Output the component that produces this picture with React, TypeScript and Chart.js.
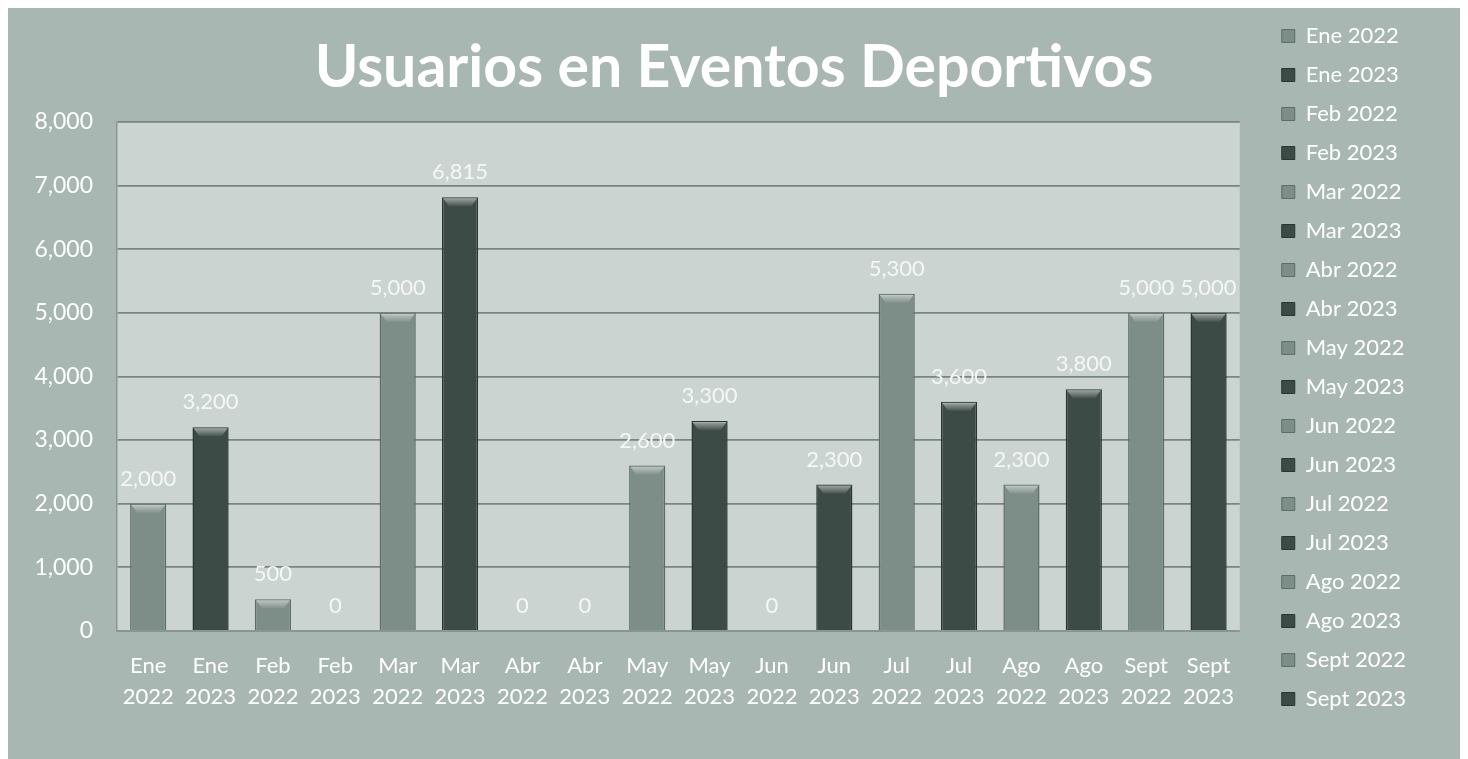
import { useEffect, useRef } from "react";
import { Chart, registerables } from "chart.js";

Chart.register(...registerables);

const months = ["Ene", "Ene", "Feb", "Feb", "Mar", "Mar", "Abr", "Abr", "May", "May", "Jun", "Jun", "Jul", "Jul", "Ago", "Ago", "Sept", "Sept"];
const years = ["2022", "2023", "2022", "2023", "2022", "2023", "2022", "2023", "2022", "2023", "2022", "2023", "2022", "2023", "2022", "2023", "2022", "2023"];
const values = [2000, 3200, 500, 0, 5000, 6815, 0, 0, 2600, 3300, 0, 2300, 5300, 3600, 2300, 3800, 5000, 5000];
const yMin = 0;
const yMax = 8000;
const yStep = 1000;
const titleText = "Usuarios en Eventos Deportivos";

const FONT = "Lato, 'Open Sans', sans-serif";
const BG = "#a9b7b2";
const PLOT_BG = "#cbd4d0";
const FILL_2022 = "#7d8e88";
const FILL_2023 = "#3d4b47";
const EDGE_2022 = "#5c6c67";
const EDGE_2023 = "#2a3532";

const fills = years.map((y) => (y === "2022" ? FILL_2022 : FILL_2023));
const edges = years.map((y) => (y === "2022" ? EDGE_2022 : EDGE_2023));

const fmt = (v: number) => v.toLocaleString("en-US");

const plotBg = {
  id: "plotBg",
  afterLayout(chart: any) {
    const t = chart.titleBlock;
    if (t) {
      t.left = 0;
      t.right = chart.width;
      t.width = chart.width;
    }
  },
  beforeDraw(chart: any) {
    const { ctx, chartArea: a } = chart;
    ctx.save();
    ctx.fillStyle = PLOT_BG;
    ctx.fillRect(a.left, a.top, a.right - a.left, a.bottom - a.top);
    ctx.restore();
  },
};

const barLabels = {
  id: "barLabels",
  afterDatasetsDraw(chart: any) {
    const ctx = chart.ctx;
    const meta = chart.getDatasetMeta(0);
    ctx.save();
    meta.data.forEach((bar: any, i: number) => {
      const { x, y, width, base } = bar.getProps(["x", "y", "width", "base"], true);
      if (values[i] > 0) {
        const h = Math.min(9, base - y);
        const g = ctx.createLinearGradient(0, y, 0, y + h);
        g.addColorStop(0, "rgba(255,255,255,0.55)");
        g.addColorStop(1, "rgba(255,255,255,0.05)");
        ctx.fillStyle = g;
        ctx.beginPath();
        ctx.moveTo(x - width / 2 + 1, y + 1);
        ctx.lineTo(x + width / 2 - 1, y + 1);
        ctx.lineTo(x + width / 2 - 7, y + h);
        ctx.lineTo(x - width / 2 + 7, y + h);
        ctx.closePath();
        ctx.fill();
      }
      ctx.font = `22px ${FONT}`;
      ctx.fillStyle = "#f5f7f6";
      ctx.textAlign = "center";
      ctx.textBaseline = "middle";
      ctx.fillText(fmt(values[i]), x, y - 25);
    });
    ctx.restore();
  },
};

export default function App() {
  const ref = useRef<HTMLCanvasElement | null>(null);

  useEffect(() => {
    if (!ref.current) return;
    const chart = new Chart(ref.current, {
      type: "bar",
      data: {
        labels: months.map((m, i) => [m, years[i]]),
        datasets: [
          {
            data: values,
            backgroundColor: fills,
            borderColor: edges,
            borderWidth: 1.5,
            barPercentage: 0.58,
            categoryPercentage: 1,
          },
        ],
      },
      options: {
        responsive: false,
        animation: false,
        layout: { padding: { left: 0, right: 44, top: 0, bottom: 0 } },
        plugins: {
          title: {
            display: true,
            text: titleText,
            color: "#ffffff",
            font: { family: FONT, size: 59, weight: "bold", lineHeight: 1.2 },
            padding: { top: 25, bottom: 18 },
            fullSize: true,
          },
          legend: {
            display: true,
            position: "right",
            align: "start",
            fullSize: true,
            labels: {
              color: "#ffffff",
              font: { family: FONT, size: 22 },
              boxWidth: 13,
              boxHeight: 13,
              padding: 17,
              generateLabels: () =>
                months.map((m, i) => ({
                  text: `${m} ${years[i]}`,
                  fillStyle: fills[i],
                  strokeStyle: edges[i],
                  lineWidth: 1,
                  hidden: false,
                  index: i,
                  datasetIndex: 0,
                  fontColor: "#ffffff",
                })),
            },
          },
          tooltip: { enabled: false },
        },
        scales: {
          x: {
            grid: { display: false, drawTicks: false },
            border: { display: true, color: "#8a9893", width: 1.5 },
            ticks: {
              color: "#ffffff",
              font: { family: FONT, size: 22, lineHeight: 1.41 },
              padding: 19,
              maxRotation: 0,
              autoSkip: false,
            },
            afterFit: (s: any) => {
              s.height = 128;
            },
          },
          y: {
            min: yMin,
            max: yMax,
            ticks: {
              stepSize: yStep,
              color: "#ffffff",
              font: { family: FONT, size: 23 },
              padding: 24,
              callback: (v: any) => fmt(Number(v)),
            },
            grid: { color: "#788681", lineWidth: 1.8, drawTicks: false },
            border: { display: true, color: "#8a9893", width: 1.5 },
            afterFit: (s: any) => {
              s.width = 109;
            },
          },
          y2: {
            position: "right",
            display: true,
            grid: { display: false, drawTicks: false },
            border: { display: false },
            ticks: { display: false },
            afterFit: (s: any) => {
              s.width = 25;
            },
          },
        },
      } as any,
      plugins: [plotBg, barLabels],
    });
    return () => chart.destroy();
  }, []);

  return (
    <div style={{ width: 1452, height: 751, background: BG }}>
      <canvas ref={ref} width={1452} height={751} style={{ display: "block" }} />
    </div>
  );
}
